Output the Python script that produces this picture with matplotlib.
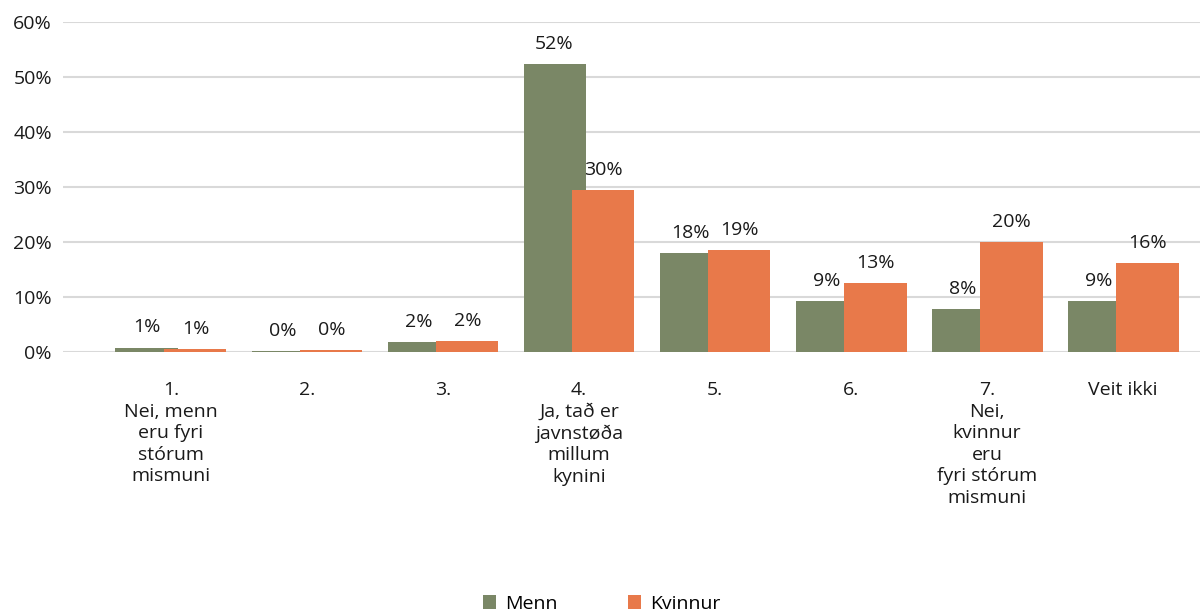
import matplotlib.pyplot as plt
import numpy as np

plt.rcParams['font.family'] = ['Open Sans', 'DejaVu Sans']

categories = ['1.\nNei, menn\neru fyri\nstórum\nmismuni', '2.', '3.',
              '4.\nJa, tað er\njavnstøða\nmillum\nkynini', '5.', '6.',
              '7.\nNei,\nkvinnur\neru\nfyri stórum\nmismuni', 'Veit ikki']
menn = [0.8, 0.2, 1.8, 52.4, 18.0, 9.3, 7.8, 9.3]
kvinnur = [0.6, 0.4, 2.0, 29.5, 18.6, 12.6, 20.0, 16.2]

green = '#7a8766'
orange = '#e8794a'

fig = plt.figure(figsize=(12.03, 6.12), dpi=100)
ax = fig.add_axes([63 / 1203, 260 / 612, 1137 / 1203, 330 / 612])

x = np.arange(len(categories))
w = 0.456
off = 0.18
b1 = ax.bar(x - off, menn, w, color=green, label='Menn', zorder=2)
b2 = ax.bar(x + off, kvinnur, w, color=orange, label='Kvinnur', zorder=3)

for bars, vals in [(b1, menn), (b2, kvinnur)]:
    for r, v in zip(bars, vals):
        ax.annotate('%d%%' % round(v), (r.get_x() + r.get_width() / 2, v),
                    xytext=(0, 8), textcoords='offset points',
                    ha='center', va='bottom', fontsize=14, color='#1a1a1a')

ax.set_ylim(0, 60)
ax.set_xlim(-0.794, 7.566)
ax.set_yticks(range(0, 61, 10))
ax.set_yticklabels(['%d%%' % t for t in range(0, 61, 10)], fontsize=14, color='#1a1a1a')
ax.set_xticks(x)
ax.set_xticklabels(categories, fontsize=14, color='#1a1a1a', linespacing=1.25)
ax.tick_params(axis='both', length=0)
ax.tick_params(axis='x', pad=21)
ax.tick_params(axis='y', pad=8)
ax.grid(axis='y', color='#d9d9d9', linewidth=1.5, zorder=0)
ax.set_axisbelow(True)
for s in ax.spines.values():
    s.set_visible(False)

fig.legend(loc='lower center', bbox_to_anchor=(0.5, -0.03), ncol=2, frameon=False,
           fontsize=14, handlelength=0.7, handleheight=0.7, columnspacing=3.6,
           handletextpad=0.45)

fig.savefig('out.png', dpi=100)
